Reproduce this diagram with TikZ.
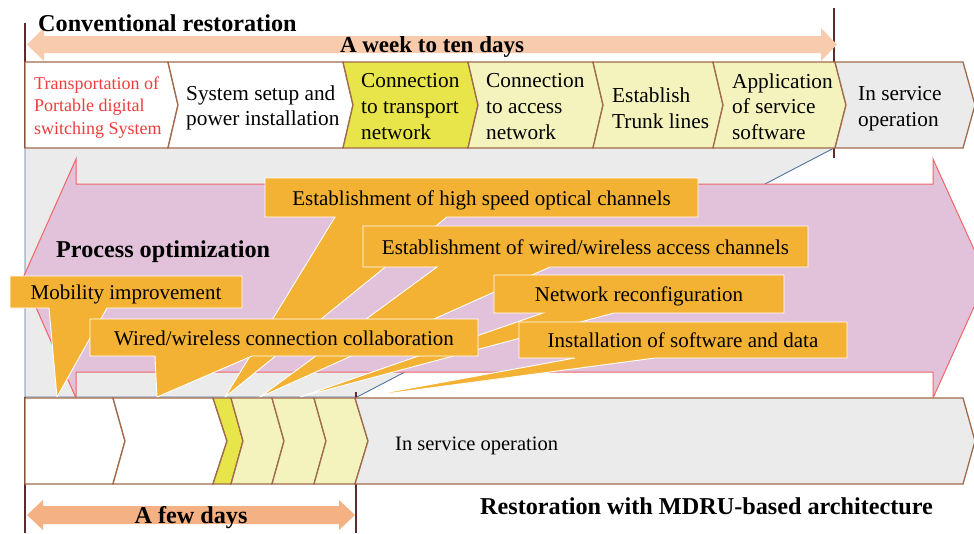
\documentclass[tikz,border=0pt]{standalone}
\usepackage{fontspec}
\setmainfont{Liberation Serif}
\definecolor{boxbrown}{HTML}{A06A4C}
\definecolor{vbrown}{HTML}{5C2B2B}
\definecolor{yel}{HTML}{E8E54A}
\definecolor{lyel}{HTML}{F5F3BD}
\definecolor{lgray}{HTML}{EBEBEB}
\definecolor{pinkfill}{HTML}{E2C1DA}
\definecolor{pinkline}{HTML}{F06666}
\definecolor{orng}{HTML}{F4B234}
\definecolor{toparr}{HTML}{F8CBAD}
\definecolor{botarr}{HTML}{F4B183}
\definecolor{blueline}{HTML}{4F74A3}
\definecolor{redtext}{HTML}{F03C3C}
\begin{document}
\begin{tikzpicture}[x=1pt,y=-1pt,
  chev/.style={draw=boxbrown, line width=1.3pt, line join=miter},
  vline/.style={draw=vbrown, line width=1.8pt},
  callout/.style={fill=orng, draw=white, line width=0.9pt, line join=miter},
  boxtxt/.style={font=\fontsize{21.3}{25.7}\selectfont, align=left, anchor=west, inner sep=0pt},
  redtxt/.style={font=\fontsize{18}{22.5}\selectfont, align=left, anchor=west, inner sep=0pt, text=redtext},
  boldtxt/.style={font=\fontsize{24.2}{28}\selectfont\bfseries, inner sep=0pt},
  cotxt/.style={font=\fontsize{21}{25}\selectfont, anchor=base, inner sep=0pt}]
\useasboundingbox (0,0) rectangle (974,533);
\fill[white] (0,0) rectangle (974,533);

% gray funnel region
\fill[lgray] (25,148) -- (834,148) -- (357,397) -- (25,397) -- cycle;
\draw[blueline, line width=0.9pt] (25,148) -- (25,397) -- (357,397) -- (834,148);

% vertical time markers
\draw[vline] (25,23) -- (25,148);
\draw[vline] (25,397) -- (25,533);
\draw[vline] (834,8) -- (834,158);
\draw[vline] (356,392) -- (356,533);

% top double arrow
\fill[toparr] (27,44.5) -- (44,28) -- (44,36) -- (821,36) -- (821,28) -- (837,44.5) -- (821,61) -- (821,53) -- (44,53) -- (44,61) -- cycle;

% top row chevrons
\filldraw[chev, fill=white] (25,62) -- (168,62) -- (178,105) -- (168,148) -- (25,148) -- cycle;
\filldraw[chev, fill=white] (168,62) -- (343,62) -- (353,105) -- (343,148) -- (168,148) -- (178,105) -- cycle;
\filldraw[chev, fill=yel] (343,62) -- (468,62) -- (478,105) -- (468,148) -- (343,148) -- (353,105) -- cycle;
\filldraw[chev, fill=lyel] (468,62) -- (593,62) -- (603,105) -- (593,148) -- (468,148) -- (478,105) -- cycle;
\filldraw[chev, fill=lyel] (593,62) -- (713,62) -- (723,105) -- (713,148) -- (593,148) -- (603,105) -- cycle;
\filldraw[chev, fill=lyel] (713,62) -- (835,62) -- (846,105) -- (835,148) -- (713,148) -- (723,105) -- cycle;
\filldraw[chev, fill=lgray] (835,62) -- (963,62) -- (975,105) -- (963,148) -- (835,148) -- (846,105) -- cycle;

% big pink double arrow
\filldraw[fill=pinkfill, draw=pinkline, line width=1pt] (23,278) -- (76,159) -- (76,184) -- (933,184) -- (933,159) -- (987,278) -- (933,398) -- (933,372) -- (76,372) -- (76,398) -- cycle;

% callouts
\filldraw[callout] (265,178) -- (698,178) -- (698,217) -- (447,217) -- (225,397) -- (335,217) -- (265,217) -- cycle;
\filldraw[callout] (363,226) -- (808,226) -- (808,267) -- (550,267) -- (260,397) -- (437,267) -- (363,267) -- cycle;
\filldraw[callout] (494,275) -- (784,275) -- (784,313) -- (614,313) -- (300,397) -- (543,313) -- (494,313) -- cycle;
\filldraw[callout] (519,322) -- (847,322) -- (847,358) -- (655,358) -- (362,397) -- (575,358) -- (519,358) -- cycle;
\filldraw[callout] (10,276) -- (242,276) -- (242,308) -- (107,308) -- (57,397) -- (49,308) -- (10,308) -- cycle;
\filldraw[callout] (90,319) -- (478,319) -- (478,356) -- (252,356) -- (157,397) -- (155,356) -- (90,356) -- cycle;

% bottom row chevrons
\filldraw[chev, fill=white] (25,398) -- (113,398) -- (125,441) -- (113,484) -- (25,484) -- cycle;
\filldraw[chev, fill=white] (113,398) -- (213,398) -- (227,441) -- (213,484) -- (113,484) -- (125,441) -- cycle;
\filldraw[chev, fill=yel] (213,398) -- (231,398) -- (243,441) -- (231,484) -- (213,484) -- (227,441) -- cycle;
\filldraw[chev, fill=lyel] (231,398) -- (272,398) -- (284,441) -- (272,484) -- (231,484) -- (243,441) -- cycle;
\filldraw[chev, fill=lyel] (272,398) -- (314,398) -- (326,441) -- (314,484) -- (272,484) -- (284,441) -- cycle;
\filldraw[chev, fill=lyel] (314,398) -- (355,398) -- (368,441) -- (355,484) -- (314,484) -- (326,441) -- cycle;
\filldraw[chev, fill=lgray] (355,398) -- (963,398) -- (975,441) -- (963,484) -- (355,484) -- (368,441) -- cycle;

% bottom double arrow
\fill[botarr] (27,515) -- (43,500) -- (43,506) -- (339,506) -- (339,500) -- (355,515) -- (339,530) -- (339,524) -- (43,524) -- (43,530) -- cycle;

% texts
\node[boldtxt, anchor=base west] (conv) at (38,31) {Conventional restoration};
\node[boldtxt, anchor=base, font=\fontsize{23}{27}\selectfont\bfseries] (week) at (432,52) {A week to ten days};
\node[redtxt] (t1) at (34,107.5) {Transportation of\\Portable digital\\switching System};
\node[boxtxt] (t2) at (186,108) {System setup and\\power installation};
\node[boxtxt] (t3) at (361,106.5) {Connection\\to transport\\network};
\node[boxtxt] (t4) at (486,106.5) {Connection\\to access\\network};
\node[boxtxt] (t5) at (612,108) {Establish\\Trunk lines};
\node[boxtxt] (t6) at (732,106.5) {Application\\of service\\software};
\node[boxtxt] (t7) at (858,108.5) {In service\\operation};

\node[boldtxt, anchor=base west] (proc) at (56,257) {Process optimization};
\node[cotxt] (c1) at (481.5,205) {Establishment of high speed optical channels};
\node[cotxt] (c2) at (585.5,254) {Establishment of wired/wireless access channels};
\node[cotxt] (c3) at (639,301.5) {Network reconfiguration};
\node[cotxt] (c4) at (683,347.5) {Installation of software and data};
\node[cotxt] (c5) at (126,299.5) {Mobility improvement};
\node[cotxt] (c6) at (284,345) {Wired/wireless connection collaboration};

\node[anchor=base west, inner sep=0pt, font=\fontsize{20.5}{24}\selectfont] (inserv) at (395,450) {In service operation};
\node[boldtxt, anchor=base] (few) at (191,523) {A few days};
\node[boldtxt, anchor=base west] (mdru) at (480,514) {Restoration with MDRU-based architecture};
\end{tikzpicture}
\end{document}
